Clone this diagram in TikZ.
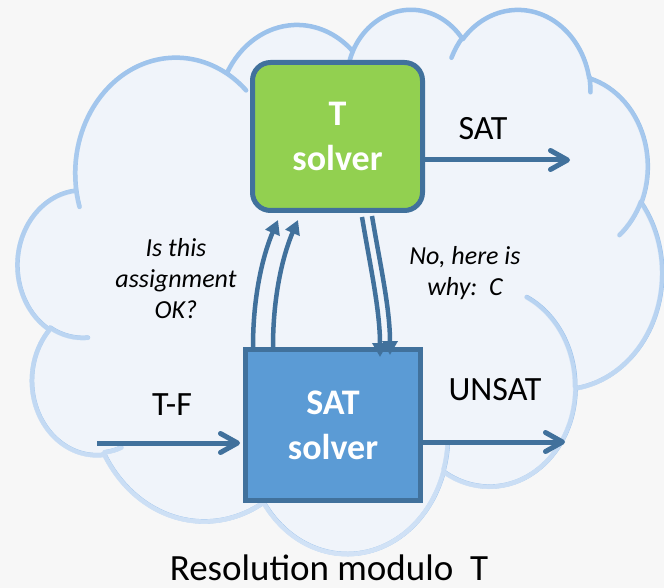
\documentclass[tikz,border=0pt]{standalone}
\usepackage{fontspec}
\setmainfont{Carlito}
\usetikzlibrary{arrows.meta,fadings}

\definecolor{bgc}{HTML}{F7F7F7}
\definecolor{cloudfillc}{HTML}{F0F4FA}
\definecolor{cloudtop}{HTML}{98C0EB}
\definecolor{cloudbot}{HTML}{D4E4F7}
\definecolor{edgec}{HTML}{41719C}
\definecolor{greenc}{HTML}{92D050}
\definecolor{bluec}{HTML}{5B9BD5}

% visual angle -> parametric angle of an ellipse (DrawingML arcTo)
\pgfmathdeclarefunction{visang}{3}{%
  \begingroup
  \pgfmathparse{atan2((#1)*sin(#3),(#2)*cos(#3))}%
  \pgfmathsmuggle\pgfmathresult
  \endgroup}

\tikzset{
  varc/.style n args={4}{x radius=#1, y radius=#2,
    start angle={visang(#1,#2,#3)},
    delta angle={Mod(visang(#1,#2,#3+#4)-visang(#1,#2,#3),360)}},
  cloudmain/.style={insert path={(39.00,143.70)
    arc[varc={67.53}{91.90}{-190.48748}{123.78053}]
    arc[varc={53.33}{72.67}{-144.10238}{89.94523}]
    arc[varc={43.65}{59.45}{-145.80792}{99.72302}]
    arc[varc={48.57}{65.95}{-130.98607}{117.24173}]
    arc[varc={53.33}{72.73}{-78.70888}{109.02692}]
    arc[varc={67.75}{92.20}{-46.26725}{130.26900}]
    arc[varc={57.85}{78.67}{0.62502}{114.03333}]
    arc[varc={67.52}{92.15}{22.45160}{115.17255}]
    arc[varc={77.20}{105.43}{66.24263}{75.71102}]
    arc[varc={43.60}{59.18}{-274.94208}{146.73557}]
    arc[varc={43.45}{59.45}{-246.82850}{152.51885}] -- cycle}},
  cloudinner/.style={insert path={
    (46.93,261.77) arc[varc={43.45}{59.45}{86.74200}{26.42950}]
    (69.28,348.99) arc[varc={43.60}{59.18}{73.61047}{11.44747}]
    (164.78,390.90) arc[varc={67.52}{92.15}{137.62415}{14.08110}]
    (288.27,347.51) arc[varc={67.52}{92.15}{6.45327}{15.99835}]
    (341.29,229.54) arc[varc={57.85}{78.67}{-70.29235}{70.91737}]
    (417.98,153.54) arc[varc={53.33}{72.73}{30.31803}{27.75150}]
    (383.24,54.26) arc[varc={48.57}{65.95}{-13.74433}{14.85890}]
    (290.78,39.52) arc[varc={48.57}{65.95}{-149.18145}{18.19537}]
    (221.41,47.20) arc[varc={43.65}{59.45}{-163.49427}{17.68635}]
    (140.00,51.92) arc[varc={67.53}{91.90}{-66.70695}{12.31935}]
    (41.27,157.89) arc[varc={67.53}{91.90}{157.65435}{11.85817}]}},
  cloudline/.style={line width=4.5pt, line join=round, line cap=round},
  tbox/.style={draw=edgec, fill=greenc, line width=5pt, rounded corners=18pt,
    minimum width=170pt, minimum height=148pt, inner sep=0pt,
    text=white, align=center, font=\bfseries\fontsize{36}{45}\selectfont},
  satbox/.style={draw=edgec, fill=bluec, line width=5pt,
    minimum width=175pt, minimum height=151pt, inner sep=0pt,
    text=white, align=center, font=\bfseries\fontsize{36}{45}\selectfont},
  lbl/.style={inner sep=0pt, text=black, font=\fontsize{34}{40}\selectfont},
  ital/.style={inner sep=0pt, text=black, align=center,
    font=\itshape\fontsize{26}{31}\selectfont},
  harrow/.style={draw=edgec, line width=5pt,
    -{Straight Barb[length=17pt,width=19pt,round]}},
  carrow/.style={draw=edgec, line width=4.5pt,
    -{Triangle[length=14pt,width=15pt]}},
}

\begin{document}
\begin{tikzpicture}[x=1pt,y=-1pt]
\useasboundingbox (0,0) rectangle (664,588);
\fill[bgc] (0,0) rectangle (664,588);

% cloud (PowerPoint cloud preset, stretched to 18..662 x 8..552)
\begin{scope}[shift={(18,8)}, xscale=1.49074, yscale=1.25926]
  \fill[cloudfillc, cloudmain];
  \draw[cloudtop, cloudline, cloudmain, cloudinner];
  \draw[cloudbot, cloudline, path fading=north, cloudmain, cloudinner];
\end{scope}

% boxes
\node[tbox] (tsolver) at (337.5,136.5) {T\\solver};
\node[satbox] (sat) at (333,425) {SAT\\solver};

% labels
\node[lbl, anchor=base] (satlbl) at (483,140) {SAT};
\node[lbl, anchor=base] (unsatlbl) at (495,400) {UNSAT};
\node[lbl, anchor=base] (tflbl) at (172,415) {T-F};
\node[lbl, anchor=base, font=\fontsize{37}{42}\selectfont] (title) at (329,580) {Resolution modulo~~T};
\node[ital, anchor=base] (ask) at (176,318) {Is this\\assignment\\OK?};
\node[ital, anchor=base] (why) at (465,295) {No, here is\\why:~~C};

% free ends
\coordinate (satend) at (570,160);
\coordinate (unsatend) at (565,442);
\coordinate (tfstart) at (97,443);

% horizontal arrows
\draw[harrow] ([yshift=-23.5pt]tsolver.east) -- (satend);
\draw[harrow] ([yshift=-17pt]sat.east) -- (unsatend);
\draw[harrow] (tfstart) -- ([xshift=-3pt,yshift=-18pt]sat.west);

% curved arrows up (SAT solver -> T solver)
\draw[carrow] ([xshift=10pt]sat.north west) .. controls +(0,-57) and +(-13,30) .. ([xshift=28pt,yshift=-7pt]tsolver.south west);
\draw[carrow] ([xshift=30pt]sat.north west) .. controls +(0,-57) and +(-13,30) .. ([xshift=48pt,yshift=-7pt]tsolver.south west);

% curved arrows down (T solver -> SAT solver)
\draw[carrow] ([xshift=112pt,yshift=-4pt]tsolver.south west) .. controls +(8,48) and +(0,-47) .. ([xshift=137pt,yshift=-10pt]sat.north west);
\draw[carrow] ([xshift=122pt,yshift=-3pt]tsolver.south west) .. controls +(8,48) and +(0,-47) .. ([xshift=147pt,yshift=-8pt]sat.north west);
\end{tikzpicture}
\end{document}
